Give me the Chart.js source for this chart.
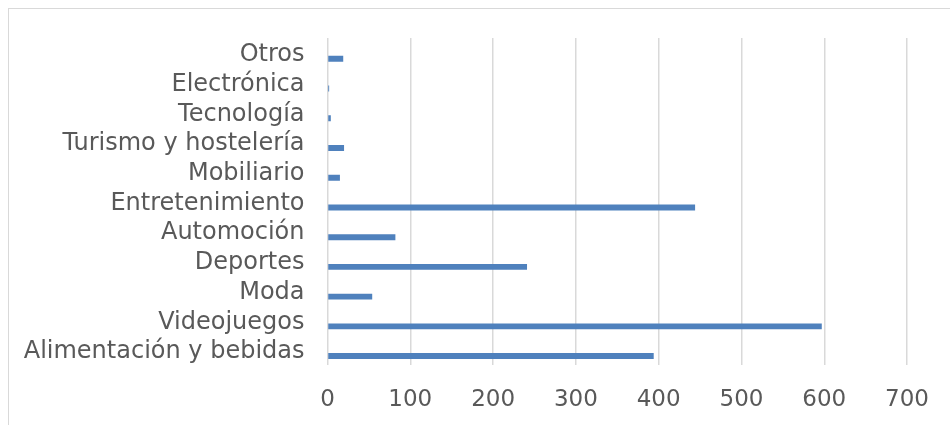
<!DOCTYPE html>
<html>
<head>
<meta charset="utf-8">
<script src="https://cdn.jsdelivr.net/npm/chart.js@4"></script>
<style>
  html, body { margin: 0; padding: 0; background: #fff; }
  #wrap { width: 950px; height: 425px; }
</style>
</head>
<body>
<div id="wrap"><canvas id="myChart" width="950" height="425"></canvas></div>
<script>
const categories = [
  "Otros",
  "Electrónica",
  "Tecnología",
  "Turismo y hostelería",
  "Mobiliario",
  "Entretenimiento",
  "Automoción",
  "Deportes",
  "Moda",
  "Videojuegos",
  "Alimentación y bebidas",
];
const values = [19, 2, 4, 20, 15, 444, 82, 241, 54, 597, 394];
const emptySeries = categories.map(() => null);
const xTicks = [0, 100, 200, 300, 400, 500, 600, 700];

const frame = {
  id: "frame",
  beforeDraw(chart) {
    const c = chart.ctx;
    c.save();
    c.strokeStyle = "#d9d9d9";
    c.lineWidth = 1;
    c.strokeRect(8.5, 8.5, 1200, 1200);
    c.restore();
  },
};

const ctx = document.getElementById("myChart").getContext("2d");

const myChart = new Chart(ctx, {
  type: "bar",
  data: {
    labels: categories,
    datasets: [
      {
        label: "",
        data: emptySeries,
        backgroundColor: "#4f81bd",
      },
      {
        label: "Serie 1",
        data: values,
        backgroundColor: "#4f81bd",
        borderWidth: 0,
      },
    ],
  },
  plugins: [frame],
  options: {
    indexAxis: "y",
    responsive: false,
    animation: false,
    categoryPercentage: 0.8,
    barPercentage: 0.5,
    layout: {
      padding: { top: 38, right: 41, bottom: 0, left: 0 },
    },
    plugins: {
      legend: { display: false },
      tooltip: { enabled: false },
    },
    scales: {
      x: {
        min: 0,
        max: 700,
        afterBuildTicks: (axis) => {
          axis.ticks = xTicks.map((v) => ({ value: v }));
        },
        afterFit: (axis) => {
          axis.height = 60;
        },
        ticks: {
          color: "#595959",
          font: { family: "'DejaVu Sans', Verdana, sans-serif", size: 23 },
          padding: 21,
          maxRotation: 0,
        },
        grid: {
          color: "#d9d9d9",
          lineWidth: 1.5,
          drawTicks: false,
        },
        border: { display: false },
      },
      y: {
        afterFit: (axis) => {
          axis.width = 327.5;
        },
        ticks: {
          color: "#595959",
          font: { family: "'DejaVu Sans', Verdana, sans-serif", size: 24 },
          padding: 23,
          labelOffset: 2,
          autoSkip: false,
        },
        grid: { display: false, drawTicks: false },
        border: { display: false },
      },
    },
  },
});
</script>
</body>
</html>
